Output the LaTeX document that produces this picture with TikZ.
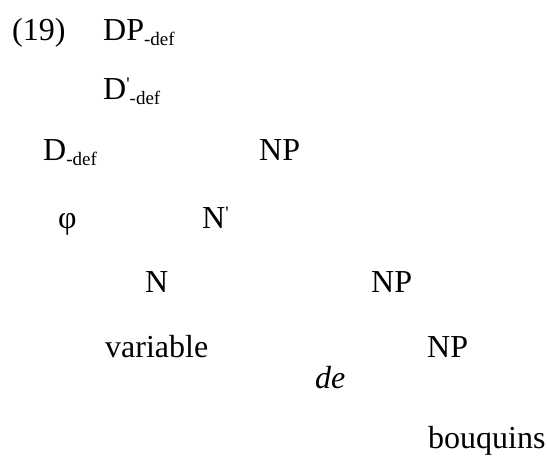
\documentclass[tikz,border=0pt]{standalone}
\usepackage{fontspec}
\setmainfont{Liberation Serif}
\newfontfamily\qf[Ligatures=TeXOff]{Liberation Serif}
\newcommand{\subd}{\raisebox{-5pt}{\fontsize{19}{19}\selectfont -def}}
\newcommand{\prm}{\raisebox{9pt}{\fontsize{19}{19}\selectfont\qf '}}
\begin{document}
\begin{tikzpicture}[x=1pt,y=-1pt,
  lbl/.style={anchor=base west,inner sep=0pt,font=\fontsize{32}{36}\selectfont},
  itl/.style={lbl,font=\fontsize{32}{36}\selectfont\itshape}]
\useasboundingbox (0,0) rectangle (547,457);
\node[lbl] (ex) at (12,41) {(19)};
\node[lbl] (dp) at (103,41) {DP\subd};
\node[lbl] (dbar) at (103,100) {D\prm\subd};
\node[lbl] (d) at (43,161) {D\subd};
\node[lbl] (np1) at (259,161) {NP};
\node[lbl] (phi) at (58,229) {φ};
\node[lbl] (nbar) at (202,229) {N\prm};
\node[lbl] (n) at (145,293) {N};
\node[lbl] (np2) at (371,293) {NP};
\node[lbl] (var) at (105,358) {variable};
\node[lbl] (np3) at (427,358) {NP};
\node[itl] (de) at (315,389) {de};
\node[lbl] (bq) at (428,449) {bouquins};
\end{tikzpicture}
\end{document}
